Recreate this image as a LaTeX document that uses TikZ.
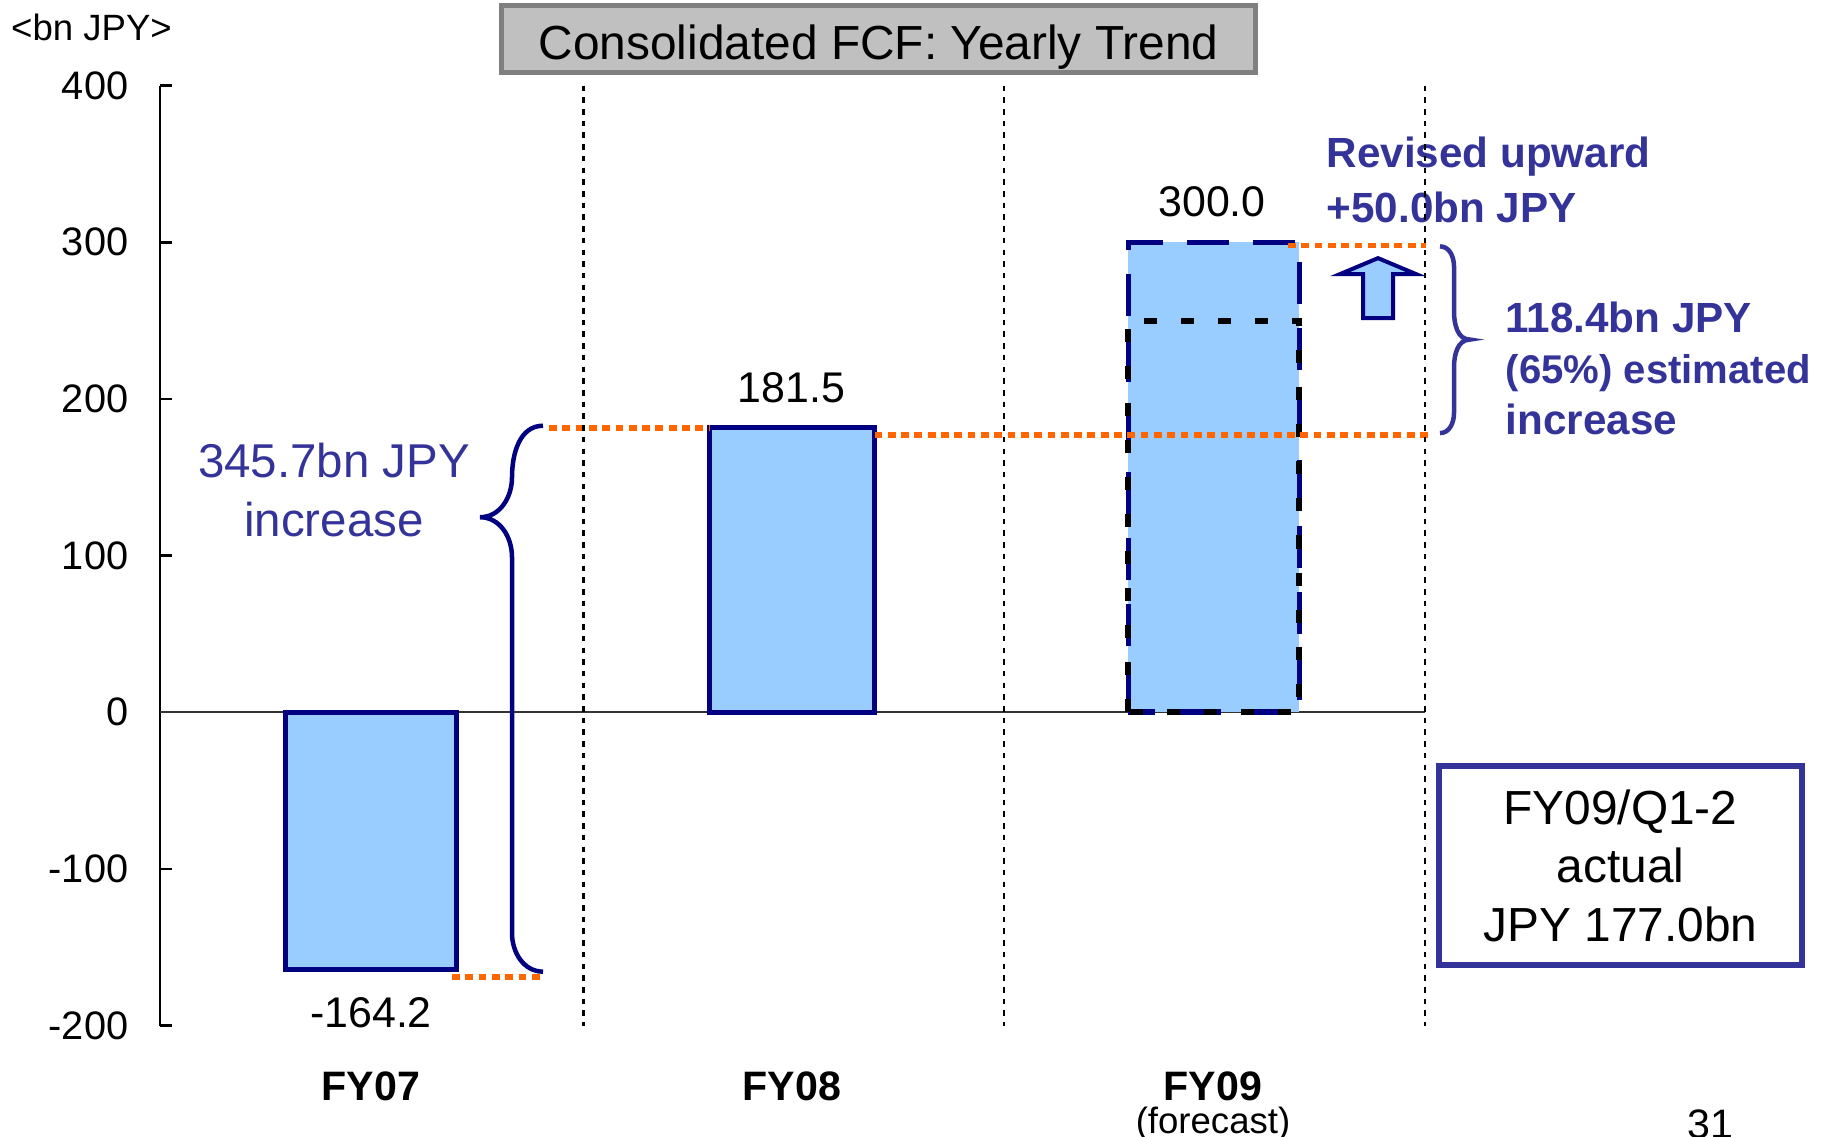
\documentclass[tikz,border=0pt]{standalone}
\usepackage{fontspec}
\setmainfont{Liberation Sans}
\usetikzlibrary{positioning}

\definecolor{azulclaro}{HTML}{99CCFF}
\definecolor{marino}{HTML}{000080}
\definecolor{violeta}{HTML}{333399}
\definecolor{naranja}{HTML}{FF6600}
\definecolor{grisclaro}{HTML}{C0C0C0}
\definecolor{grisoscuro}{HTML}{808080}

\tikzset{
  barra/.style={fill=azulclaro, draw=marino, line width=0.05cm},
  guia/.style={draw=naranja, line width=0.058cm,
    dash pattern=on 0.078cm off 0.055cm},
  divisor/.style={line width=0.025cm, dash pattern=on 0.055cm off 0.062cm},
  llave/.style={line width=0.045cm},
  numero/.style={inner sep=0pt, font=\fontsize{11.3}{13}\selectfont},
  valor/.style={inner sep=0pt, font=\fontsize{12.2}{14}\selectfont},
  anio/.style={inner sep=0pt, font=\fontsize{11.7}{14}\selectfont\bfseries},
  nota/.style={inner sep=0pt, text=violeta, align=left,
    font=\fontsize{12}{15.6}\selectfont\bfseries}
}

\begin{document}
\begin{tikzpicture}[x=0.01cm, y=0.01566cm]
\useasboundingbox (0,-270.75) rectangle (1830,454.7);

% titulo y unidad
\node[draw=grisoscuro, fill=grisclaro, line width=0.05cm,
      minimum width=7.54cm, minimum height=0.673cm, inner sep=0pt,
      text height=0.42cm, text depth=0cm,
      font=\fontsize{13.6}{16}\selectfont]
      (titulo) at (878.5,429.9) {Consolidated FCF: Yearly Trend};
\node[inner sep=0pt, anchor=base, font=\fontsize{10.4}{12}\selectfont]
      (unidad) at (91.5,429.1) {<bn JPY>};

% eje vertical
\draw[line width=0.025cm] (160,400) -- (160,-200);
\foreach \v [count=\i] in {-200,-100,...,400}{
  \draw[line width=0.025cm] (160,\v) -- (172,\v);
  \node[numero, anchor=east] (tick\i) at (129,\v) {\v};
}
\draw[black!80, line width=0.018cm] (160,0) -- (1425,0);

% barras FY07, FY08
\draw[barra] (285.8,0) rectangle (456.5,-164.2);
\draw[barra] (709,0) rectangle (874.5,181.5);

% barra FY09 (pronostico): 300 revisado sobre 250 previo
\fill[azulclaro] (1128.3,0) rectangle (1299.3,300);
\draw[marino, line width=0.055cm, dash pattern=on 0.42cm off 0.24cm]
      (1128.3,0) rectangle (1299.3,300);
\draw[line width=0.06cm, dash pattern=on 0.13cm off 0.24cm]
      (1128.3,0) rectangle (1299.3,250);

% valores
\node[valor] (v07) at (371,-192) {-164.2};
\node[valor] (v08) at (791.5,207.2) {181.5};
\node[valor] (v09) at (1212,326) {300.0};

% años
\node[anio] (fy07) at (371,-238.8) {FY07};
\node[anio] (fy08) at (792,-238.8) {FY08};
\node[anio] (fy09) at (1213,-238.8) {FY09};
\node[inner sep=0pt, font=\fontsize{10.4}{12}\selectfont,
      below=0.05cm of fy09] (pronostico) {(forecast)};

% guias naranjas
\draw[guia] (452,-169.2) -- (545,-169.2);
\draw[guia] (549,181.5) -- (709,181.5);
\draw[guia] (874.5,177) -- (1429,177);
\draw[guia] (1288,298) -- (1426,298);

% llave FY07 -> FY08
\draw[marino, llave] (543,182.9) to[out=180,in=90] (512,150)
      to[out=-90,in=0] (480,124.5) to[out=0,in=90] (512,99)
      -- (512,-141) to[out=-90,in=180] (543,-165.6);
\node[inner sep=0pt, text=violeta, align=center,
      font=\fontsize{13.5}{16.8}\selectfont]
      (aumento) at (334,141.8) {345.7bn JPY\\increase};

% llave 177 -> 300
\draw[violeta, llave] (1440,297.4) to[out=0,in=90] (1454,284.5)
      -- (1454,256) to[out=-90,in=180] (1470,237.9)
      to[out=180,in=90] (1454,220) -- (1454,191)
      to[out=-90,in=0] (1440,178.2);
\node[nota, anchor=west, font=\fontsize{12}{14.5}\selectfont\bfseries]
      (estimado) at (1505,219.4)
      {118.4bn JPY\\{\fontsize{11.4}{14.5}\selectfont (65\%) estimated}\\increase};

% flecha de revision
\draw[marino, fill=azulclaro, line width=0.04cm]
      (1378,289.9) -- (1416,279.7) -- (1393,279.7) -- (1393,251.6)
      -- (1363,251.6) -- (1363,279.7) -- (1340,279.7) -- cycle;
\node[nota, anchor=west] (revision) at (1326,340)
      {Revised upward\\+50.0bn JPY};

% real del semestre
\node[draw=violeta, line width=0.057cm, minimum width=3.633cm,
      minimum height=1.99cm, inner sep=0pt, align=center,
      font=\fontsize{13.6}{16.6}\selectfont]
      (real) at (1620.5,-97.9) {FY09/Q1-2\\actual\\JPY 177.0bn};

% divisores
\foreach \x in {583.5,1004,1425}
  \draw[divisor] (\x,400) -- (\x,-200);

\node[inner sep=0pt, anchor=base, font=\fontsize{11.7}{14}\selectfont]
      (pagina) at (1710,-272.3) {31};

\end{tikzpicture}
\end{document}
